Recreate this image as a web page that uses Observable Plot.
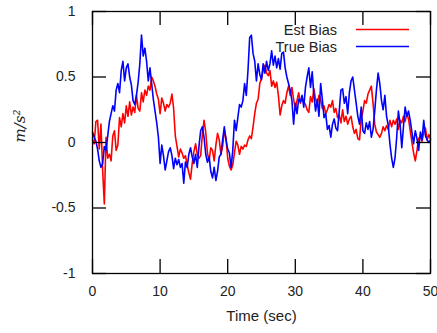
<!DOCTYPE html>
<html><head><meta charset="utf-8">
<script src="https://cdn.jsdelivr.net/npm/d3@7"></script>
<script src="https://cdn.jsdelivr.net/npm/@observablehq/plot@0.6"></script>
<style>body{margin:0;background:#fff}#chart svg{display:block}</style>
</head><body><div id="chart"></div>
<script>
const dt = 0.25; // sampling step of the series (seconds)
const trueBias = [
0.08,0.04,0.01,-0.05,-0.14,-0.19,-0.16,-0.03,-0.06,0.05,
0.16,0.22,0.28,0.24,0.40,0.45,0.38,0.55,0.62,0.47,
0.57,0.60,0.50,0.44,0.32,0.29,0.36,0.46,0.60,0.82,
0.66,0.72,0.62,0.47,0.57,0.45,0.33,0.24,0.15,0.04,
-0.16,-0.02,-0.10,-0.21,-0.14,-0.07,-0.04,-0.10,-0.20,-0.12,
-0.17,-0.13,-0.19,-0.16,-0.31,-0.15,-0.19,-0.09,-0.04,-0.11,
-0.16,-0.09,-0.19,-0.03,0.09,0.12,0.04,-0.09,-0.15,-0.11,
-0.22,-0.27,-0.19,-0.29,-0.22,-0.11,-0.09,0.02,0.12,0.02,
-0.05,-0.08,-0.19,-0.06,0.17,0.09,0.19,0.29,0.27,0.32,
0.45,0.36,0.55,0.80,0.82,0.68,0.62,0.47,0.60,0.52,
0.48,0.60,0.53,0.62,0.55,0.60,0.70,0.59,0.66,0.57,
0.64,0.56,0.68,0.69,0.57,0.50,0.45,0.40,0.32,0.14,
0.30,0.22,0.33,0.31,0.36,0.27,0.42,0.50,0.57,0.42,
0.54,0.36,0.24,0.33,0.20,0.45,0.33,0.19,0.22,0.10,
0.13,0.04,0.14,0.18,0.11,0.09,0.24,0.40,0.41,0.30,
0.35,0.22,0.38,0.47,0.50,0.40,0.30,0.20,0.14,0.27,
0.09,0.07,0.15,0.10,0.16,0.04,0.10,0.24,0.40,0.53,
0.45,0.32,0.25,0.36,0.20,0.13,-0.01,-0.12,-0.19,-0.12,
0.04,0.24,0.14,-0.04,0.12,0.27,0.20,0.24,0.17,0.08,
-0.01,0.09,0.03,-0.06,0.08,0.02,0.17,0.05,0.02,0.00,
0.02];
const estBias = [
0.02,-0.01,0.16,0.17,-0.05,0.14,-0.21,-0.47,0.04,-0.12,
-0.09,-0.14,0.05,0.09,-0.06,-0.02,0.19,0.12,0.22,0.15,
0.28,0.20,0.31,0.21,0.27,0.23,0.36,0.26,0.24,0.38,
0.31,0.40,0.36,0.43,0.40,0.50,0.47,0.43,0.37,0.33,
0.22,0.34,0.30,0.24,0.29,0.27,0.30,0.37,0.26,0.05,
-0.03,-0.11,-0.05,-0.08,-0.12,-0.10,-0.17,-0.23,-0.28,-0.16,
-0.07,-0.01,-0.09,-0.12,-0.10,0.06,0.17,0.08,-0.08,-0.14,
-0.04,-0.06,-0.14,-0.02,0.07,0.02,-0.09,-0.03,0.09,0.03,
-0.12,-0.18,-0.21,-0.17,-0.08,0.01,-0.02,-0.09,-0.03,-0.05,
-0.02,-0.03,0.02,0.05,0.03,0.12,0.22,0.30,0.33,0.45,
0.49,0.55,0.59,0.53,0.51,0.55,0.43,0.47,0.42,0.46,
0.36,0.21,0.28,0.32,0.30,0.38,0.43,0.36,0.42,0.33,
0.26,0.32,0.38,0.30,0.34,0.31,0.29,0.25,0.23,0.35,
0.31,0.41,0.33,0.29,0.36,0.33,0.26,0.28,0.22,0.25,
0.29,0.27,0.32,0.23,0.26,0.19,0.21,0.15,0.25,0.16,
0.20,0.14,0.18,0.20,0.12,0.07,0.10,0.03,0.02,0.18,
0.24,0.32,0.30,0.37,0.40,0.43,0.30,0.14,0.08,0.06,
0.04,0.07,0.12,0.09,0.13,0.10,0.17,0.12,0.17,0.14,
0.18,0.10,0.17,0.15,0.20,0.16,0.22,0.18,0.09,0.00,
-0.08,-0.14,-0.06,0.03,0.05,0.01,0.08,0.11,0.02,0.06,
0.03];
const xTicks = [0,10,20,30,40,50];
const xTickLabels = ["0","10","20","30","40","50"];
const yTicks = [-1,-0.5,0,0.5,1];
const yTickLabels = ["-1","-0.5","0","0.5","1"];
const seriesNames = ["Est Bias","True Bias"];
const seriesColors = ["#ff0000","#0000ff"];
const xLabel = "Time (sec)";
const yLabel = "m/s\u00b2";

const est = estBias.map((v,i)=>({t:i*dt, v}));
const tru = trueBias.map((v,i)=>({t:i*dt, v}));

const W = 437, H = 333, mL = 92, mR = 7, mT = 11, mB = 60;
const tickPx = 14;
const xPerPx = 50/(W-mL-mR), yPerPx = 2/(H-mT-mB);
const tx = tickPx*xPerPx, ty = tickPx*yPerPx;
const FONT = "'Liberation Sans', Arial, sans-serif";

const chart = Plot.plot({
  width: W, height: H,
  marginLeft: mL, marginRight: mR, marginTop: mT, marginBottom: mB,
  style: {fontFamily: FONT, fontSize: "15px", color: "#222", background: "#fff"},
  x: {domain: [0,50]},
  y: {domain: [-1,1]},
  marks: [
    Plot.axisX(xTicks, {tickSize: 0, tickPadding: 13, fontSize: 14, tickFormat: (d)=>xTickLabels[xTicks.indexOf(d)], label: null}),
    Plot.axisY(yTicks, {tickSize: 0, tickPadding: 17, fontSize: 14, tickFormat: (d)=>yTickLabels[yTicks.indexOf(d)], label: null}),
    Plot.line(est, {x:"t", y:"v", stroke: seriesColors[0], strokeWidth: 1.6}),
    Plot.line(tru, {x:"t", y:"v", stroke: seriesColors[1], strokeWidth: 1.6}),
    Plot.ruleX(xTicks, {x: d=>d, y1: -1, y2: -1+ty, stroke: "#000", strokeWidth: 1.3}),
    Plot.ruleX(xTicks, {x: d=>d, y1: 1, y2: 1-ty, stroke: "#000", strokeWidth: 1.3}),
    Plot.ruleY(yTicks, {y: d=>d, x1: 0, x2: tx, stroke: "#000", strokeWidth: 1.3}),
    Plot.ruleY(yTicks, {y: d=>d, x1: 50, x2: 50-tx, stroke: "#000", strokeWidth: 1.3}),
    Plot.frame({stroke: "#000", strokeWidth: 1.3}),
    Plot.text([xLabel], {frameAnchor: "bottom", dy: 47, fill: "#222"}),
    Plot.text([yLabel], {frameAnchor: "left", dx: -72, rotate: -90, fill: "#222", fontStyle: "italic", fontFamily: "DejaVu Serif", fontSize: 15})
  ]
});
document.getElementById("chart").append(chart);

// legend (top right, inside the frame)
const svg = d3.select(chart);
const lg = svg.append("g").attr("font-family",FONT).attr("font-size",14.5).attr("fill","#222");
seriesNames.forEach((name,i)=>{
  const yy = 29.5 + i*17;
  lg.append("text").attr("x",337).attr("y",yy).attr("dy","0.35em").attr("text-anchor","end").text(name);
  lg.append("line").attr("x1",356).attr("x2",409).attr("y1",yy).attr("y2",yy)
    .attr("stroke",seriesColors[i]).attr("stroke-width",1.6);
});
</script>
</body></html>
